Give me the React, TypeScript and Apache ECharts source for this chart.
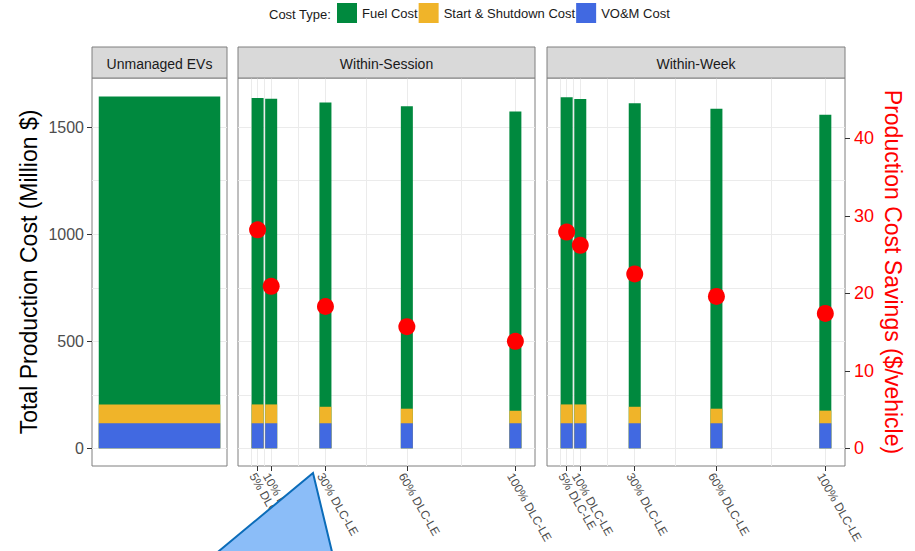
import React, { useEffect, useRef } from "react";
import * as echarts from "echarts";

const FONT = "'Liberation Sans', Arial, Helvetica, sans-serif";

// Facet panels and cost components
const panels = ["Unmanaged EVs", "Within-Session", "Within-Week"];
const costTypes = ["Fuel Cost", "Start & Shutdown Cost", "VO&M Cost"];
const costColors = ["#00893E", "#F0B429", "#4169E1"];

// DLC-LE participation levels (x positions in the managed panels)
const dlcLevels = [5, 10, 30, 60, 100];

// Unmanaged case (Million $)
const unmanagedFuel = [1438];
const unmanagedStart = [88];
const unmanagedVom = [117];

// Within-Session management (Million $)
const sessionFuel = [1432, 1428, 1422, 1413, 1397];
const sessionStart = [88, 88, 77, 68, 59];
const sessionVom = [117, 117, 117, 117, 117];

// Within-Week management (Million $)
const weekFuel = [1435, 1427, 1418, 1401, 1382];
const weekStart = [88, 88, 77, 68, 59];
const weekVom = [117, 117, 117, 117, 117];

// Production cost savings ($/vehicle)
const sessionSavings = [28.2, 20.9, 18.3, 15.7, 13.8];
const weekSavings = [27.9, 26.2, 22.5, 19.6, 17.4];

// Axis ticks and grid lines
const costTicks = [0, 500, 1000, 1500];
const costGridLines = [0, 250, 500, 750, 1000, 1250, 1500];
const savingsTicks = [0, 10, 20, 30, 40];
const dlcGridLines = [2.5, 5, 7.5, 10, 20, 30, 45, 60, 80, 100];
// the first tick label sits on its own axis so that it is never dropped
// by the overlap check against its close neighbour
const dlcFirstLabel = dlcLevels.slice(0, 1);
const dlcOtherLabels = dlcLevels.slice(1);

const COST_MIN = -82.7;
const COST_MAX = 1730;
const SAVINGS_RATIO = 36.2;
const X_MIN = -2.225;
const X_MAX = 107.225;

const GRID_TOP = 78;
const GRID_H = 388;
const STRIP_TOP = 47;
const STRIP_H = 31;
const gridBoxes = [
  { left: 92, width: 135 },
  { left: 238, width: 297 },
  { left: 547, width: 298 },
];

const pairs = (xs: number[], ys: number[]) => xs.map((x, i) => [x, ys[i]]);

// Cumulative heights of a stacked column: [fuel top, start top, vom top]
function stackTops(fuel: number[], start: number[], vom: number[]) {
  const vomTop = vom.map((v) => v);
  const startTop = vom.map((v, i) => v + start[i]);
  const fuelTop = startTop.map((v, i) => v + fuel[i]);
  return [fuelTop, startTop, vomTop];
}

const noLine = { show: false, onZero: false };

function buildOption(): echarts.EChartsOption {
  const grid = gridBoxes.map((b) => ({
    left: b.left,
    top: GRID_TOP,
    width: b.width,
    height: GRID_H,
    show: true,
    backgroundColor: "#ffffff",
    borderColor: "#7f7f7f",
    borderWidth: 1,
    containLabel: false,
  }));

  const gridLineY = (gridIndex: number, position: "left" | "right") => ({
    type: "value" as const,
    gridIndex,
    position,
    min: COST_MIN,
    max: COST_MAX,
    axisLine: noLine,
    axisTick: { show: false, customValues: costGridLines },
    axisLabel: { show: false },
    splitLine: { show: true, lineStyle: { color: "#ebebeb", width: 1 } },
  });

  const savingsY = (gridIndex: number, visible: boolean) => ({
    type: "value" as const,
    gridIndex,
    position: "right" as const,
    min: COST_MIN / SAVINGS_RATIO,
    max: COST_MAX / SAVINGS_RATIO,
    show: visible,
    axisLine: noLine,
    axisTick: {
      show: visible,
      customValues: savingsTicks,
      length: 5,
      lineStyle: { color: "#333333" },
    },
    axisLabel: {
      show: visible,
      customValues: savingsTicks,
      color: "#ff0000",
      fontSize: 18,
      margin: 9,
      fontFamily: FONT,
    },
    splitLine: { show: false },
  });

  const yAxis: any[] = [
    {
      type: "value",
      gridIndex: 0,
      position: "left",
      min: COST_MIN,
      max: COST_MAX,
      axisLine: noLine,
      axisTick: {
        show: true,
        customValues: costTicks,
        length: 5,
        lineStyle: { color: "#333333" },
      },
      axisLabel: {
        customValues: costTicks,
        formatter: (v: number) => String(v),
        color: "#4d4d4d",
        fontSize: 16,
        margin: 8,
        fontFamily: FONT,
      },
      splitLine: { show: false },
    },
    gridLineY(0, "right"),
    gridLineY(1, "left"),
    savingsY(1, false),
    gridLineY(2, "left"),
    savingsY(2, true),
  ];

  const dlcLabelStyle = {
    formatter: (v: number) => `${v}% DLC-LE`,
    rotate: -60,
    color: "#4d4d4d",
    fontSize: 12,
    margin: 5,
    verticalAlign: "top",
    fontFamily: FONT,
    hideOverlap: false,
    showMinLabel: true,
    showMaxLabel: true,
  };

  const dlcTickX = (gridIndex: number) => ({
    type: "value" as const,
    gridIndex,
    position: "bottom" as const,
    min: X_MIN,
    max: X_MAX,
    axisLine: noLine,
    axisTick: {
      show: true,
      customValues: dlcLevels,
      length: 5,
      lineStyle: { color: "#333333" },
    },
    axisLabel: { ...dlcLabelStyle, customValues: dlcOtherLabels },
    splitLine: { show: false },
  });

  const dlcFirstLabelX = (gridIndex: number) => ({
    type: "value" as const,
    gridIndex,
    position: "bottom" as const,
    min: X_MIN,
    max: X_MAX,
    axisLine: noLine,
    axisTick: { show: false, customValues: dlcFirstLabel },
    axisLabel: { ...dlcLabelStyle, customValues: dlcFirstLabel },
    splitLine: { show: false },
  });

  const dlcGridX = (gridIndex: number) => ({
    type: "value" as const,
    gridIndex,
    position: "top" as const,
    min: X_MIN,
    max: X_MAX,
    axisLine: noLine,
    axisTick: { show: false, customValues: dlcGridLines },
    axisLabel: { show: false },
    splitLine: { show: true, lineStyle: { color: "#ebebeb", width: 1 } },
  });

  const xAxis: any[] = [
    {
      type: "category",
      gridIndex: 0,
      data: [panels[0]],
      axisLine: noLine,
      axisTick: { show: false },
      axisLabel: { show: false },
      splitLine: { show: false },
    },
    dlcTickX(1),
    dlcFirstLabelX(1),
    dlcGridX(1),
    dlcTickX(2),
    dlcFirstLabelX(2),
    dlcGridX(2),
  ];

  const barBase = {
    type: "bar" as const,
    barWidth: 12,
    barGap: "-100%",
    emphasis: { disabled: true },
    silent: true,
    z: 2,
  };

  // Columns are painted from the full stack height down to the bottom layer,
  // so each later series covers the lower part of the previous one.
  const unmanagedTops = stackTops(unmanagedFuel, unmanagedStart, unmanagedVom);
  const sessionTops = stackTops(sessionFuel, sessionStart, sessionVom);
  const weekTops = stackTops(weekFuel, weekStart, weekVom);

  const series: any[] = [];
  [0, 1, 2].forEach((k) => {
    series.push({
      ...barBase,
      name: costTypes[k],
      xAxisIndex: 0,
      yAxisIndex: 0,
      barWidth: "90%",
      itemStyle: { color: costColors[k] },
      data: unmanagedTops[k],
    });
  });
  [0, 1, 2].forEach((k) => {
    series.push({
      ...barBase,
      name: costTypes[k],
      xAxisIndex: 1,
      yAxisIndex: 2,
      itemStyle: { color: costColors[k] },
      data: pairs(dlcLevels, sessionTops[k]),
    });
  });
  [0, 1, 2].forEach((k) => {
    series.push({
      ...barBase,
      name: costTypes[k],
      xAxisIndex: 4,
      yAxisIndex: 4,
      itemStyle: { color: costColors[k] },
      data: pairs(dlcLevels, weekTops[k]),
    });
  });

  const savingsBase = {
    type: "scatter" as const,
    symbol: "circle",
    symbolSize: 17,
    itemStyle: { color: "#ff0000", opacity: 1 },
    emphasis: { disabled: true },
    silent: true,
    z: 5,
  };
  series.push({
    ...savingsBase,
    name: "Savings Within-Session",
    xAxisIndex: 1,
    yAxisIndex: 3,
    data: pairs(dlcLevels, sessionSavings),
  });
  series.push({
    ...savingsBase,
    name: "Savings Within-Week",
    xAxisIndex: 4,
    yAxisIndex: 5,
    data: pairs(dlcLevels, weekSavings),
  });

  const stripElements: any[] = [];
  gridBoxes.forEach((b, i) => {
    stripElements.push({
      type: "rect",
      shape: { x: b.left, y: STRIP_TOP, width: b.width, height: STRIP_H },
      style: { fill: "#d9d9d9", stroke: "#7f7f7f", lineWidth: 1 },
      z: 10,
    });
    stripElements.push({
      type: "text",
      x: b.left + b.width / 2,
      y: STRIP_TOP + STRIP_H / 2 + 1,
      style: {
        text: panels[i],
        fill: "#1a1a1a",
        fontSize: 14,
        fontFamily: FONT,
        align: "center",
        verticalAlign: "middle",
        textAlign: "center",
        textVerticalAlign: "middle",
      },
      z: 11,
    });
  });

  const graphic: any[] = [
    ...stripElements,
    {
      type: "text",
      x: 269,
      y: 14,
      style: {
        text: "Cost Type:",
        fill: "#1a1a1a",
        fontSize: 13,
        fontFamily: FONT,
        align: "left",
        verticalAlign: "middle",
        textAlign: "left",
        textVerticalAlign: "middle",
      },
    },
    {
      type: "text",
      x: 29,
      y: GRID_TOP + GRID_H / 2,
      rotation: Math.PI / 2,
      style: {
        text: "Total Production Cost (Million $)",
        fill: "#000000",
        fontSize: 23,
        fontFamily: FONT,
        align: "center",
        verticalAlign: "middle",
        textAlign: "center",
        textVerticalAlign: "middle",
      },
    },
    {
      type: "text",
      x: 893,
      y: GRID_TOP + GRID_H / 2,
      rotation: -Math.PI / 2,
      style: {
        text: "Production Cost Savings ($/vehicle)",
        fill: "#ff0000",
        fontSize: 23,
        fontFamily: FONT,
        align: "center",
        verticalAlign: "middle",
        textAlign: "center",
        textVerticalAlign: "middle",
      },
    },
    {
      type: "polygon",
      shape: {
        points: [
          [313, 473],
          [213, 556],
          [333, 556],
        ],
      },
      style: { fill: "#8bbdf8", stroke: "#0b6cb9", lineWidth: 2 },
      z: 100,
    },
  ];

  return {
    animation: false,
    backgroundColor: "#ffffff",
    textStyle: { fontFamily: FONT },
    legend: {
      data: costTypes,
      left: 337,
      top: 3,
      padding: 0,
      itemWidth: 20,
      itemHeight: 20,
      itemGap: 1,
      icon: "rect",
      selectedMode: false,
      textStyle: { fontSize: 13, color: "#1a1a1a", fontFamily: FONT },
    },
    grid,
    xAxis,
    yAxis,
    series,
    graphic,
  };
}

export default function App() {
  const ref = useRef<HTMLDivElement>(null);

  useEffect(() => {
    document.body.style.margin = "0";
    if (!ref.current) return;
    const chart = echarts.init(ref.current, undefined, { renderer: "svg" });
    chart.setOption(buildOption());
    return () => {
      chart.dispose();
    };
  }, []);

  return <div ref={ref} style={{ width: 915, height: 551 }} />;
}
